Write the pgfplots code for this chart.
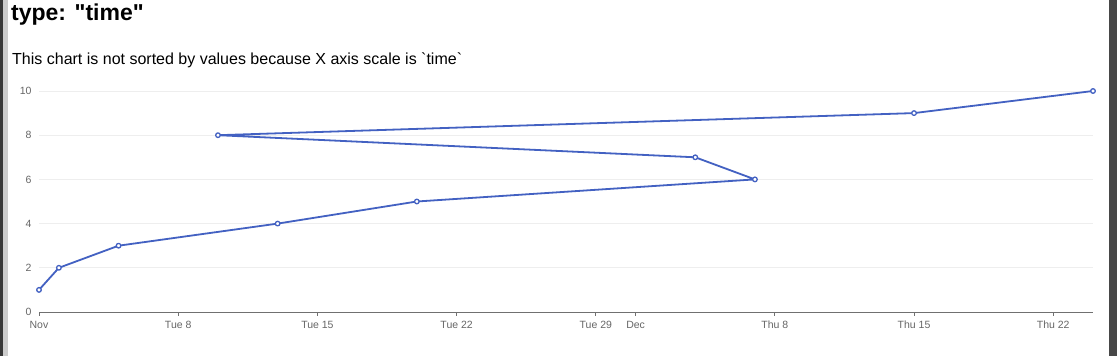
\documentclass[border=0pt]{standalone}
\usepackage{fontspec}
\setmainfont{Liberation Sans}
\newfontfamily\rawfont{Liberation Sans}
\usepackage{pgfplots}
\pgfplotsset{compat=1.18}
\definecolor{lineblue}{HTML}{4361C2}
\definecolor{tickgray}{HTML}{666666}
\definecolor{axisgray}{HTML}{707070}
\definecolor{gridgray}{HTML}{EEEEEE}
\begin{document}
\begin{tikzpicture}
\useasboundingbox (0pt,0pt) rectangle (1117pt,356pt);
\fill[white] (0pt,0pt) rectangle (1117pt,356pt);
\fill[black!78] (0pt,0pt) rectangle (3pt,356pt);
\fill[black!20] (3pt,0pt) rectangle (8pt,356pt);
\fill[black!72] (1109pt,0pt) rectangle (1117pt,356pt);
\node[anchor=base west, font=\rawfont\fontsize{23}{27}\selectfont\bfseries, inner sep=0pt] at (11pt,335pt) {type: "time"};
\node[anchor=base west, font=\rawfont\fontsize{16}{19}\selectfont, inner sep=0pt] at (12pt,291pt) {This chart is not sorted by values because X axis scale is `time`};
\begin{axis}[
  at={(39pt,44pt)}, anchor=south west, scale only axis,
  width=1054pt, height=221pt,
  xmin=0, xmax=53, ymin=0, ymax=10,
  clip=false,
  axis x line*=bottom, axis y line*=left,
  y axis line style={draw=none},
  x axis line style={draw=axisgray, line width=0.9pt, -},
  xtick={0,7,14,21,28,30,37,44,51},
  xticklabels={Nov,Tue 8,Tue 15,Tue 22,Tue 29,Dec,Thu 8,Thu 15,Thu 22},
  ytick={0,2,4,6,8,10},
  ymajorgrids,
  grid style={draw=gridgray, line width=0.8pt},
  tick align=outside,
  major tick length=4pt,
  xtick style={draw=axisgray, line width=0.8pt},
  ytick style={draw=none},
  tick label style={font=\fontsize{10.5}{12}\selectfont, text=tickgray},
  xticklabel style={yshift=-1.5pt},
  /pgf/number format/assume math mode=true,
]
\addplot[lineblue, line width=1.8pt, line join=round, mark=*, mark size=2.3pt,
  mark options={fill=white, draw=lineblue, line width=1.3pt}]
  coordinates {(0,1) (1,2) (4,3) (12,4) (19,5) (36,6) (33,7) (9,8) (44,9) (53,10)};
\end{axis}
\end{tikzpicture}
\end{document}
